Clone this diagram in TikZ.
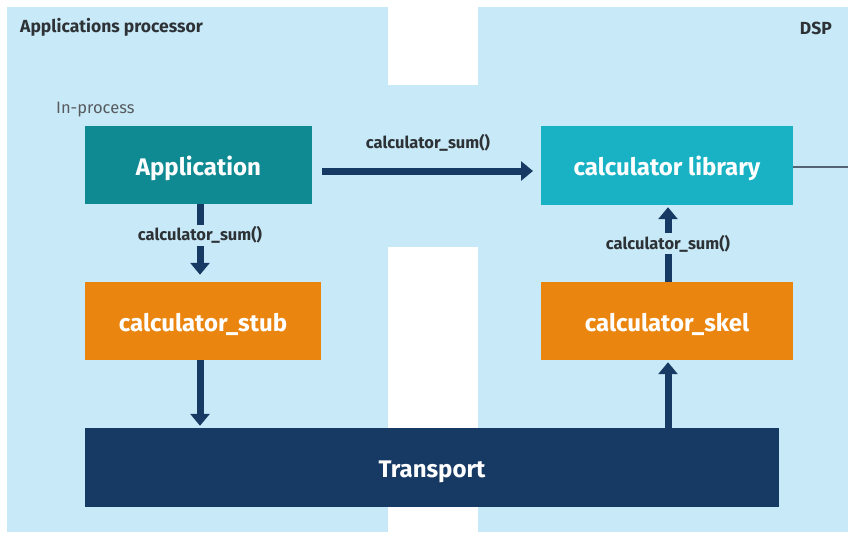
\documentclass[tikz,border=0pt]{standalone}
\usepackage{fontspec}
\setmainfont{Fira Sans}
\usetikzlibrary{arrows.meta}
\definecolor{panel}{RGB}{200,233,247}
\definecolor{tealapp}{RGB}{16,138,146}
\definecolor{cyanlib}{RGB}{24,178,196}
\definecolor{orangebox}{RGB}{234,134,16}
\definecolor{navy}{RGB}{22,58,100}
\definecolor{labeltext}{RGB}{45,50,55}
\begin{document}
\begin{tikzpicture}[x=1pt,y=-1pt,
  block/.style={draw=none,inner sep=0pt,text=white,text height=20pt,text depth=0pt,font=\fontsize{24}{28}\selectfont\bfseries},
  arr/.style={navy,line width=7pt,-{Triangle[width=19pt,length=12pt]}},
  lbl/.style={text=labeltext,font=\fontsize{16.5}{19}\selectfont\bfseries,inner sep=2pt},
  title/.style={text=labeltext,font=\fontsize{17.5}{20}\selectfont\bfseries,inner sep=0pt}]
  % canvas
  \fill[white] (0,0) rectangle (848,539);
  \useasboundingbox (0,0) rectangle (848,539);
  % processor panels and the bridge between them
  \fill[panel] (7,7) rectangle (388,532);
  \fill[panel] (478,7) rectangle (848,532);
  \fill[panel] (388,85) rectangle (478,247);
  % blocks
  \node[block,fill=tealapp,minimum width=227pt,minimum height=78pt] (app) at (198.5,165) {Application};
  \node[block,fill=cyanlib,minimum width=252pt,minimum height=79pt] (lib) at (667,165.5) {calculator library};
  \node[block,fill=orangebox,minimum width=236pt,minimum height=78pt] (stub) at (203,321) {calculator\_stub};
  \node[block,fill=orangebox,minimum width=252pt,minimum height=78pt] (skel) at (667,321) {calculator\_skel};
  \node[block,fill=navy,minimum width=694pt,minimum height=79pt] (tr) at (432,467.5) {Transport};
  % panel titles
  \node[title,anchor=west] (aptitle) at (20,27) {Applications processor};
  \node[title,anchor=east] (dsptitle) at (832,28) {DSP};
  \node[text=labeltext!80,font=\fontsize{16.5}{19}\selectfont,anchor=west,inner sep=0pt] (inproc) at (56,110) {In-process};
  % connectors
  \coordinate (edge) at (848,167);
  \draw[line width=1.5pt,color=navy!40!gray] (lib.east |- edge) -- (edge);
  \coordinate (hs) at (322,171);
  \coordinate (he) at (533,171);
  \draw[arr] (hs) -- (he);
  \node[lbl] (hlbl) at (428,143) {calculator\_sum()};
  \draw[arr,shorten >=7pt] (app.south -| 200,0) -- node[lbl,fill=panel,pos=0.4] {calculator\_sum()} (stub.north -| 200,0);
  \draw[arr,shorten >=2pt] (stub.south -| 200,0) -- (tr.north -| 200,0);
  \draw[arr,shorten >=2pt] (tr.north -| 668,0) -- (skel.south -| 668,0);
  \draw[arr,shorten >=2pt] (skel.north -| 668,0) -- node[lbl,fill=panel,pos=0.5] {calculator\_sum()} (lib.south -| 668,0);
\end{tikzpicture}
\end{document}
